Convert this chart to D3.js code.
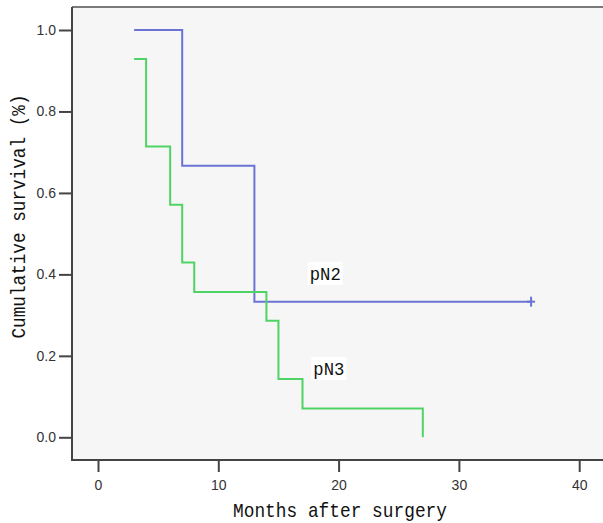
<!DOCTYPE html>
<html>
<head>
<meta charset="utf-8">
<script src="https://cdn.jsdelivr.net/npm/d3@7"></script>
<style>
  html, body { margin: 0; padding: 0; background: #ffffff; }
  svg { display: block; }
</style>
</head>
<body>
<script>
// ---- data ----
const groups = ["pN2", "pN3"];
// Kaplan-Meier step data: time (months) and survival after that time
const pN2Times = [3, 7, 13, 36];
const pN2Surv  = [1.0, 0.667, 0.333, 0.333];
const pN2Censored = [36];
const pN3Times = [3, 4, 6, 7, 8, 14, 15, 17, 27];
const pN3Surv  = [0.929, 0.714, 0.571, 0.429, 0.357, 0.286, 0.143, 0.071, 0.0];
const xTicks = [0, 10, 20, 30, 40];
const yTicks = [0.0, 0.2, 0.4, 0.6, 0.8, 1.0];
const labelTimes = [17.6, 17.9];
const labelSurv  = [0.386, 0.153];
const colors = ["#6b73d4", "#4fd364"];

// ---- layout ----
const W = 603, H = 523;
const svg = d3.select("body").append("svg").attr("width", W).attr("height", H);

const x = d3.scaleLinear().domain([0, 40]).range([98, 579.2]);
const y = d3.scaleLinear().domain([0, 1]).range([437.3, 30]);

const plotLeft = 72, plotTop = 7, plotBottom = 460;

// background
svg.append("rect")
  .attr("x", plotLeft).attr("y", plotTop)
  .attr("width", W - plotLeft + 5).attr("height", plotBottom - plotTop)
  .attr("fill", "#f6f6f6");

// top frame line
svg.append("line")
  .attr("x1", plotLeft).attr("x2", W + 5)
  .attr("y1", plotTop).attr("y2", plotTop)
  .attr("stroke", "#7a7a7a").attr("stroke-width", 2);

// axes
const yAxis = d3.axisLeft(y).tickValues(yTicks).tickFormat(d3.format(".1f"))
  .tickSize(13).tickPadding(3);
const gy = svg.append("g").attr("transform", `translate(${plotLeft},0)`).call(yAxis);
gy.select(".domain").remove();
svg.append("line")
  .attr("x1", plotLeft).attr("x2", plotLeft)
  .attr("y1", plotTop).attr("y2", plotBottom + 1)
  .attr("stroke", "#444").attr("stroke-width", 2);

const xAxis = d3.axisBottom(x).tickValues(xTicks).tickFormat(d3.format("d"))
  .tickSize(12).tickPadding(8);
const gx = svg.append("g").attr("transform", `translate(0,${plotBottom})`).call(xAxis);
gx.select(".domain").remove();
svg.append("line")
  .attr("x1", plotLeft - 1).attr("x2", W + 5)
  .attr("y1", plotBottom).attr("y2", plotBottom)
  .attr("stroke", "#444").attr("stroke-width", 2);

[gx, gy].forEach(g => {
  g.selectAll(".tick line").attr("stroke", "#444").attr("stroke-width", 2);
  g.selectAll(".tick text")
    .attr("fill", "#333")
    .style("font-family", "'Liberation Sans', Arial, sans-serif")
    .style("font-size", "14px");
});

// ---- KM curves ----
function stepPoints(times, surv) {
  const pts = [[times[0], surv[0]]];
  for (let i = 1; i < times.length; i++) {
    pts.push([times[i], surv[i - 1]]);
    pts.push([times[i], surv[i]]);
  }
  return pts;
}
const line = d3.line().x(d => x(d[0])).y(d => y(d[1]));

const series = [
  { name: groups[0], pts: stepPoints(pN2Times, pN2Surv), color: colors[0] },
  { name: groups[1], pts: stepPoints(pN3Times, pN3Surv), color: colors[1] }
];
svg.selectAll("path.km").data(series).enter().append("path")
  .attr("class", "km")
  .attr("d", d => line(d.pts))
  .attr("fill", "none")
  .attr("stroke", d => d.color)
  .attr("stroke-width", 2);

// censor marks
pN2Censored.forEach(t => {
  const idx = pN2Times.indexOf(t);
  const cx = x(t), cy = y(pN2Surv[idx]);
  svg.append("line").attr("x1", cx).attr("x2", cx).attr("y1", cy - 5).attr("y2", cy + 5)
    .attr("stroke", colors[0]).attr("stroke-width", 2);
  svg.append("line").attr("x1", cx - 4).attr("x2", cx + 4).attr("y1", cy).attr("y2", cy)
    .attr("stroke", colors[0]).attr("stroke-width", 2);
});

// group labels with white boxes
groups.forEach((g, i) => {
  const lx = x(labelTimes[i]), ly = y(labelSurv[i]);
  svg.append("rect").attr("x", lx - 2).attr("y", ly - 18).attr("width", 35).attr("height", 23)
    .attr("fill", "#ffffff");
  svg.append("text").attr("x", lx).attr("y", ly)
    .attr("textLength", 31).attr("lengthAdjust", "spacingAndGlyphs")
    .style("font-family", "'Liberation Mono', 'Courier New', monospace")
    .style("font-size", "18px")
    .attr("fill", "#111")
    .text(g);
});

// axis titles
svg.append("text")
  .attr("x", 340).attr("y", 516.5)
  .attr("text-anchor", "middle")
  .attr("textLength", 214).attr("lengthAdjust", "spacingAndGlyphs")
  .style("font-family", "'Liberation Mono', 'Courier New', monospace")
  .style("font-size", "21px")
  .attr("fill", "#111")
  .text("Months after surgery");

svg.append("text")
  .attr("transform", "translate(25,216.5) rotate(-90)")
  .attr("text-anchor", "middle")
  .attr("textLength", 244).attr("lengthAdjust", "spacingAndGlyphs")
  .style("font-family", "'Liberation Mono', 'Courier New', monospace")
  .style("font-size", "21px")
  .attr("fill", "#111")
  .text("Cumulative survival (%)");
</script>
</body>
</html>
